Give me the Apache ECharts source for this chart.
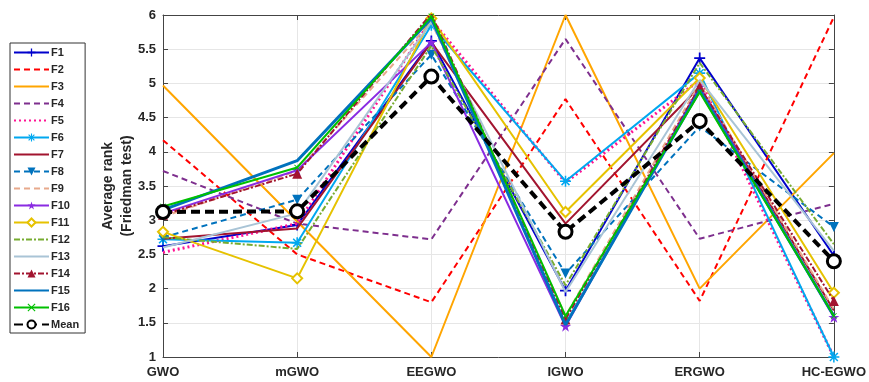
<!DOCTYPE html>
<html>
<head>
<meta charset="utf-8">
<script src="https://cdn.jsdelivr.net/npm/echarts@6/dist/echarts.min.js"></script>
<style>html,body{margin:0;padding:0;background:#fff}#c{width:869px;height:382px}</style>
</head>
<body>
<div id="c"></div>
<script>
const categories = ['GWO','mGWO','EEGWO','IGWO','ERGWO','HC-EGWO'];
const F1  = [2.62, 2.93, 5.62, 1.97, 5.37, 2.48];
const F2  = [4.17, 2.50, 1.80, 4.77, 1.82, 5.97];
const F3  = [4.97, 2.98, 1.00, 6.00, 2.00, 3.98];
const F4  = [3.72, 2.95, 2.72, 5.65, 2.73, 3.24];
const F5  = [2.53, 2.95, 5.93, 3.55, 5.05, 1.00];
const F6  = [2.72, 2.67, 5.85, 3.57, 5.15, 1.00];
const F7  = [2.73, 2.88, 5.60, 2.95, 4.95, 1.68];
const F8  = [2.75, 3.30, 5.42, 2.22, 4.37, 2.90];
const F9  = [3.05, 3.72, 5.90, 1.60, 5.00, 1.70];
const F10 = [3.10, 3.73, 5.60, 1.45, 4.95, 1.58];
const F11 = [2.83, 2.15, 5.95, 3.12, 5.08, 1.94];
const F12 = [2.75, 2.58, 5.55, 2.05, 5.30, 2.65];
const F13 = [2.60, 3.10, 5.90, 1.95, 5.05, 2.55];
const F14 = [3.08, 3.68, 6.02, 1.55, 4.95, 1.82];
const F15 = [3.15, 3.87, 5.95, 1.47, 4.90, 1.60];
const F16 = [3.20, 3.77, 5.98, 1.60, 4.87, 1.60];
const Mean = [3.12, 3.13, 5.10, 2.83, 4.45, 2.40];
const seriesNames = ['F1','F2','F3','F4','F5','F6','F7','F8','F9','F10','F11','F12','F13','F14','F15','F16','Mean'];
const seriesData = [F1,F2,F3,F4,F5,F6,F7,F8,F9,F10,F11,F12,F13,F14,F15,F16,Mean];

const PLUS = 'path://M4.2,0H5.8V4.2H10V5.8H5.8V10H4.2V5.8H0V4.2H4.2Z';
const AST = 'path://M4.3,0H5.7V3.3L8.1,0.9L9.1,1.9L6.7,4.3H10V5.7H6.7L9.1,8.1L8.1,9.1L5.7,6.7V10H4.3V6.7L1.9,9.1L0.9,8.1L3.3,5.7H0V4.3H3.3L0.9,1.9L1.9,0.9L4.3,3.3Z';
const STAR = 'path://M5,0L6.2,3.6H10L6.9,5.8L8.1,9.5L5,7.2L1.9,9.5L3.1,5.8L0,3.6H3.8Z';
const XM = 'path://M1,0L5,4L9,0L10,1L6,5L10,9L9,10L5,6L1,10L0,9L4,5L0,1Z';

const styles = {
  F1:  {color:'#0000CC', width:2, type:'solid', symbol:PLUS, size:11},
  F2:  {color:'#FF0000', width:2, type:[6,4]},
  F3:  {color:'#FFA500', width:2, type:'solid'},
  F4:  {color:'#7E2F8E', width:2, type:[6,4]},
  F5:  {color:'#FF1493', width:3, type:[2,3]},
  F6:  {color:'#00A8F0', width:2, type:'solid', symbol:AST, size:11},
  F7:  {color:'#A2142F', width:2, type:'solid'},
  F8:  {color:'#0072BD', width:2, type:[6,4], symbol:'triangle', size:10, rotate:180},
  F9:  {color:'#E8A98C', width:2, type:[6,4]},
  F10: {color:'#8A2BE2', width:2, type:'solid', symbol:STAR, size:11},
  F11: {color:'#E6C200', width:2, type:'solid', symbol:'diamond', size:10, hollow:true},
  F12: {color:'#77AC30', width:2, type:[6,2,2,2]},
  F13: {color:'#A9C4D6', width:2, type:'solid'},
  F14: {color:'#A2142F', width:2, type:[6,2,2,2], symbol:'triangle', size:10},
  F15: {color:'#0072BD', width:3, type:'solid'},
  F16: {color:'#00C000', width:2, type:'solid', symbol:XM, size:6},
  Mean:{color:'#000000', width:4, type:[9,5], symbol:'circle', size:13, hollow:true, bw:3}
};

const series = seriesNames.map((n, i) => {
  const s = styles[n];
  let itemStyle;
  if (!s.symbol) itemStyle = {color:'rgba(0,0,0,0)', borderWidth:0};
  else if (s.hollow) itemStyle = {color:'#fff', borderColor:s.color, borderWidth:s.bw || 2};
  else itemStyle = {color:s.color, borderWidth:0};
  return {
    name: n, type: 'line', data: seriesData[i],
    xAxisIndex: 0, yAxisIndex: 0,
    symbol: s.symbol || 'circle',
    symbolSize: s.symbol ? s.size : 1,
    symbolRotate: s.rotate || 0,
    showSymbol: !!s.symbol,
    z: 2 + i,
    lineStyle: {color: s.color, width: s.width, type: s.type},
    itemStyle: itemStyle,
    emphasis: {disabled: true},
    animation: false
  };
});

const txt = '#262626';
const chart = echarts.init(document.getElementById('c'), null, {renderer:'canvas'});
chart.setOption({
  animation: false,
  backgroundColor: '#fff',
  grid: {left: 163, right: 33, top: 15, bottom: 25, containLabel: false},
  legend: {
    orient: 'vertical', left: 10, top: 43,
    data: seriesNames,
    itemWidth: 35, itemHeight: 10, itemGap: 6,
    padding: [4, 6, 3, 3],
    borderColor: '#333', borderWidth: 1,
    textStyle: {fontFamily:'Liberation Sans, Arial', fontWeight:'bold', fontSize:11, color:txt, padding:[0,0,0,-3]},
    selectedMode: false
  },
  xAxis: [{
    type: 'category', data: categories, boundaryGap: false,
    axisLine: {lineStyle: {color:'#444', width:1}},
    axisTick: {inside: true, length: 5, lineStyle:{color:'#444'}},
    axisLabel: {color: txt, fontWeight:'bold', fontSize:13, fontFamily:'Liberation Sans, Arial', margin:9},
    splitLine: {show: true, lineStyle: {color:'#E6E6E6', width:1}}
  },{
    type: 'category', data: categories, boundaryGap: false, position: 'top',
    axisLine: {lineStyle: {color:'#444', width:1}},
    axisTick: {inside: true, length: 5, lineStyle:{color:'#444'}},
    axisLabel: {show:false}, splitLine:{show:false}
  }],
  yAxis: [{
    type: 'value', min: 1, max: 6, interval: 0.5,
    name: 'Average rank\n(Friedman test)', nameLocation: 'middle', nameGap: 26, nameRotate: 90,
    nameMoveOverlap: false,
    nameTextStyle: {color: txt, fontWeight:'bold', fontSize:14, fontFamily:'Liberation Sans, Arial', lineHeight:19},
    axisLine: {show:true, lineStyle: {color:'#444', width:1}},
    axisTick: {show:true, inside: true, length: 5, lineStyle:{color:'#444'}},
    axisLabel: {color: txt, fontWeight:'bold', fontSize:13, fontFamily:'Liberation Sans, Arial', margin:7},
    splitLine: {show: true, lineStyle: {color:'#E6E6E6', width:1}}
  },{
    type: 'value', min: 1, max: 6, interval: 0.5, position: 'right',
    axisLine: {show:true, lineStyle: {color:'#444', width:1}},
    axisTick: {show:true, inside: true, length: 5, lineStyle:{color:'#444'}},
    axisLabel: {show:false}, splitLine:{show:false}
  }],
  series: series
});
</script>
</body>
</html>
